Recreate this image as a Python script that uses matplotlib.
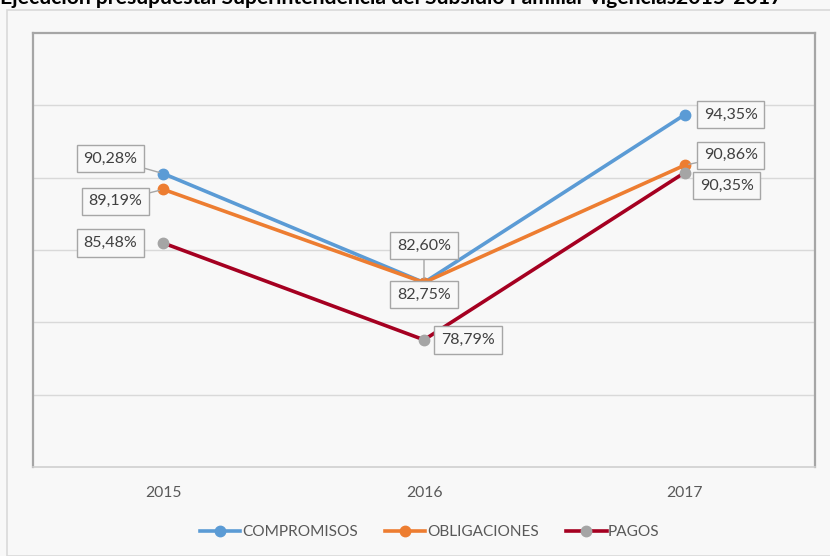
import matplotlib
matplotlib.use('Agg')
import matplotlib.pyplot as plt
from matplotlib.lines import Line2D
from matplotlib.patches import Rectangle

plt.rcParams['font.family'] = ['Lato', 'DejaVu Sans']

years = ['2015', '2016', '2017']
compromisos = [90.28, 82.75, 94.35]
obligaciones = [89.19, 82.75, 90.86]
pagos = [85.48, 78.79, 90.35]
# labels as printed on the chart
lab_compromisos = ['90,28%', '82,60%', '94,35%']
lab_obligaciones = ['89,19%', '82,75%', '90,86%']
lab_pagos = ['85,48%', '78,79%', '90,35%']

W, H = 830, 556
bg = '#f8f8f8'
fig = plt.figure(figsize=(W / 100, H / 100), dpi=100, facecolor=bg)

# outer chart frame
fig.patches.append(Rectangle((7 / W, 0), 1, 1 - 10 / H, transform=fig.transFigure,
                             fill=False, edgecolor='#d9d9d9', linewidth=1.2))

ax = fig.add_axes([33 / W, (H - 467) / H, 782 / W, 434 / H])
ax.set_facecolor(bg)
x = list(range(len(years)))

series = [
    ('COMPROMISOS', compromisos, lab_compromisos, '#5b9bd5', '#5b9bd5'),
    ('OBLIGACIONES', obligaciones, lab_obligaciones, '#ed7d31', '#ed7d31'),
    ('PAGOS', pagos, lab_pagos, '#a50021', '#a5a5a5'),
]
for name, vals, labs, lc, mc in series:
    ax.plot(x, vals, color=lc, linewidth=2.6, marker='o', markersize=7.5,
            markerfacecolor=mc, markeredgecolor=mc, zorder=3)

ax.set_xlim(-0.5, 2.5)
ax.set_ylim(70, 100)
ax.set_yticks([75, 80, 85, 90, 95])
ax.yaxis.grid(True, color='#d9d9d9', linewidth=1)
ax.set_axisbelow(True)
ax.tick_params(axis='y', left=False, labelleft=False)
ax.tick_params(axis='x', bottom=False, labelsize=11.3, labelcolor='#595959', pad=10.5)
ax.set_xticks(x)
ax.set_xticklabels(years)
for s in ['left', 'right', 'top']:
    ax.spines[s].set_color('#a6a6a6')
    ax.spines[s].set_linewidth(1.6)
ax.spines['bottom'].set_color('#d0d0d0')
ax.spines['bottom'].set_linewidth(1.2)

# data label offsets in pixels (dx, dy) and whether a leader line is drawn
offsets = {
    'COMPROMISOS': [(-53, 15, True), (0, 37, True), (46, 0, False)],
    'OBLIGACIONES': [(-48, -12, True), (0, -12, False), (46, 10, True)],
    'PAGOS': [(-53, 0, False), (44, 0, False), (42, -13, False)],
}
for name, vals, labs, lc, mc in series:
    for i, (v, lab) in enumerate(zip(vals, labs)):
        dx, dy, leader = offsets[name][i]
        kw = {}
        if leader:
            kw['arrowprops'] = dict(arrowstyle='-', color='#a6a6a6', lw=1, shrinkA=0, shrinkB=3)
        ax.annotate(lab, (i, v), xytext=(dx, dy), textcoords='offset pixels',
                    ha='center', va='center', fontsize=11.5, color='#404040', zorder=5,
                    bbox=dict(boxstyle='square,pad=0.42', facecolor=bg, edgecolor='#a6a6a6', lw=1),
                    **kw)

fig.text(0.0, 1 - 4 / H, 'Ejecución presupuestal Superintendencia del Subsidio Familiar vigencias2015-2017',
         ha='left', va='baseline', fontsize=15.2, fontweight='bold', color='#000000')

handles = [Line2D([], [], color=lc, linewidth=2.6, marker='o', markersize=7.5,
                  markerfacecolor=mc, markeredgecolor=mc) for _, _, _, lc, mc in series]
fig.legend(handles, [s[0] for s in series], loc='center', bbox_to_anchor=(0.518, 1 - 532 / H),
           ncol=3, frameon=False, fontsize=11.1, labelcolor='#595959', handlelength=2.6,
           handletextpad=0.1, columnspacing=1.8)

fig.savefig('out.png', dpi=100, facecolor=bg)
